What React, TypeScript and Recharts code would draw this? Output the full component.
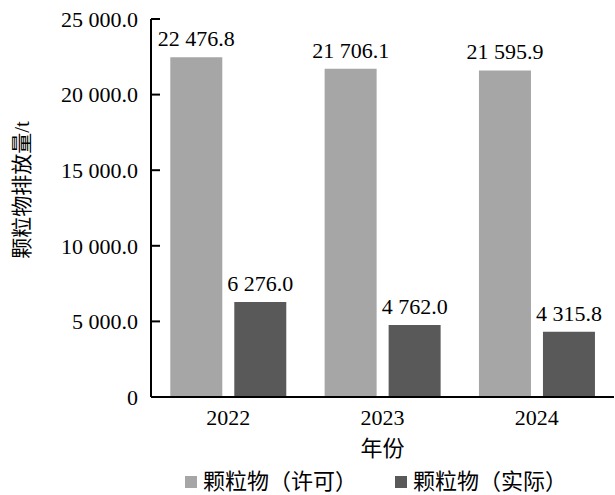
import { BarChart, Bar, XAxis, YAxis, LabelList, Legend, Label } from 'recharts'

const years = ['2022', '2023', '2024']
const permitted = [22476.8, 21706.1, 21595.9]
const actual = [6276.0, 4762.0, 4315.8]
const yTicks = [0, 5000, 10000, 15000, 20000, 25000]

const seriesNames = { permitted: '颗粒物（许可）', actual: '颗粒物（实际）' }
const LIGHT = '#a6a6a6'
const DARK = '#595959'
const FONT = "'Times New Roman', 'Liberation Serif', 'Noto Sans CJK SC', serif"
const textStyle = { fontFamily: FONT, fontSize: 22 }

const data = years.map((year, i) => ({ year, permitted: permitted[i], actual: actual[i] }))

// 22 476.8 style: space as thousands separator, one decimal
const fmt = (v: number) => {
  if (v === 0) return '0'
  const [int, dec] = v.toFixed(1).split('.')
  return int.replace(/\B(?=(\d{3})+(?!\d))/g, ' ') + '.' + dec
}

const YTick = ({ x, y, payload }: { x?: number; y?: number; payload?: { value: number } }) => {
  const px = x ?? 0
  const py = y ?? 0
  return (
    <g>
      <line x1={px + 13} x2={px + 22} y1={py} y2={py} stroke="#000" strokeWidth={2} />
      <text x={px} y={py} dy="0.35em" textAnchor="end" style={textStyle} fill="#000">
        {fmt(payload?.value ?? 0)}
      </text>
    </g>
  )
}

const BarValueLabel = (props: any) => {
  const { x, y, width, value } = props
  return (
    <text x={x + width / 2} y={y - 11} textAnchor="middle" style={textStyle} fill="#000">
      {fmt(Number(value))}
    </text>
  )
}

const CustomLegend = () => {
  const items = [
    { name: seriesNames.permitted, color: LIGHT },
    { name: seriesNames.actual, color: DARK },
  ]
  return (
    <div style={{ display: 'flex', alignItems: 'center', paddingLeft: 185, fontFamily: FONT }}>
      {items.map((entry, index) => (
        <div key={index} style={{ display: 'flex', alignItems: 'center', marginRight: 38 }}>
          <div style={{ width: 12, height: 12, backgroundColor: entry.color, marginRight: 6 }} />
          <span style={{ fontSize: 22, color: '#000', lineHeight: '24px' }}>{entry.name}</span>
        </div>
      ))}
    </div>
  )
}

export default function App() {
  return (
    <div style={{ position: 'absolute', left: 0, top: 0, background: '#fff' }}>
      <BarChart
        width={615}
        height={495}
        data={data}
        margin={{ top: 19, right: 1, bottom: 38, left: 0 }}
        barCategoryGap="12.5%"
        barGap={12}
      >
        <XAxis
          dataKey="year"
          height={60}
          axisLine={{ stroke: '#000', strokeWidth: 2 }}
          tickLine={false}
          tickSize={0}
          tickMargin={12}
          tick={{ fill: '#000', fontSize: 22, fontFamily: FONT, style: textStyle }}
        >
          <Label
            content={({ viewBox }: any) => (
              <text
                x={viewBox.x + viewBox.width / 2}
                y={viewBox.y + 51}
                dominantBaseline="central"
                textAnchor="middle"
                style={textStyle}
                fill="#000"
              >
                年份
              </text>
            )}
          />
        </XAxis>
        <YAxis
          width={151}
          domain={[0, 25000]}
          ticks={yTicks}
          interval={0}
          axisLine={{ stroke: '#000', strokeWidth: 2 }}
          tickLine={false}
          tickSize={0}
          tickMargin={13}
          tick={<YTick />}
        >
          <Label
            content={() => (
              <text
                x={22}
                y={190}
                transform="rotate(-90 22 190)"
                dominantBaseline="central"
                textAnchor="middle"
                style={{ fontFamily: FONT, fontSize: 21 }}
                fill="#000"
              >
                颗粒物排放量/t
              </text>
            )}
          />
        </YAxis>
        <Legend
          layout="horizontal"
          verticalAlign="middle"
          content={<CustomLegend />}
          wrapperStyle={{ top: 470, left: 0, width: 615 }}
        />
        <Bar dataKey="permitted" name={seriesNames.permitted} fill={LIGHT} isAnimationActive={false}>
          <LabelList dataKey="permitted" content={<BarValueLabel />} />
        </Bar>
        <Bar dataKey="actual" name={seriesNames.actual} fill={DARK} isAnimationActive={false}>
          <LabelList dataKey="actual" content={<BarValueLabel />} />
        </Bar>
      </BarChart>
    </div>
  )
}
